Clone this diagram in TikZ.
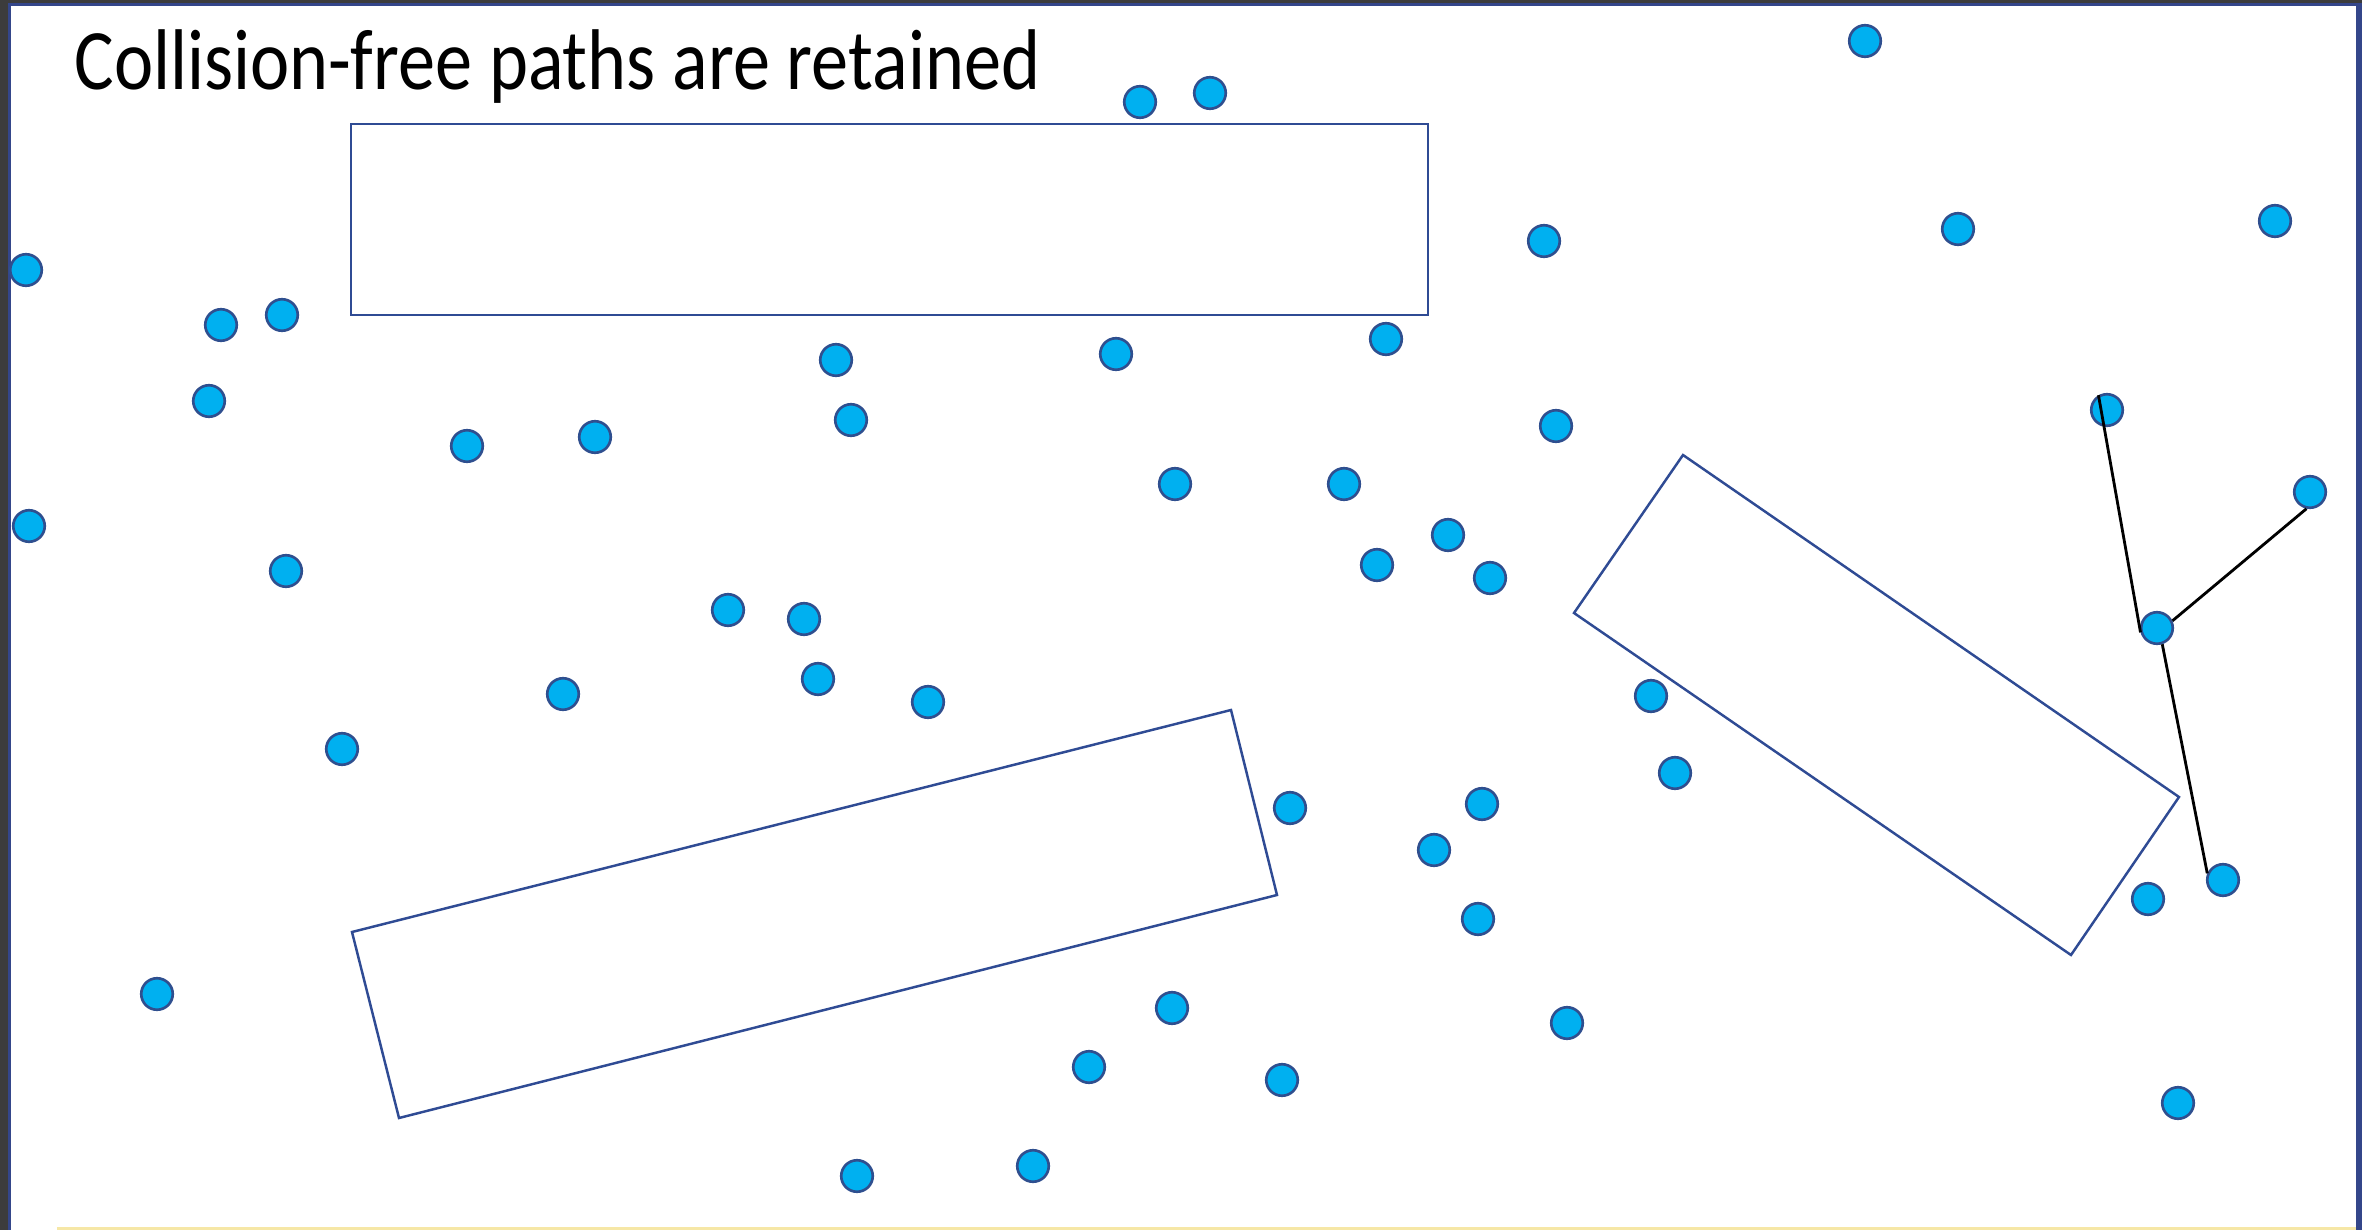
\documentclass[tikz,border=0pt]{standalone}
\usepackage{graphicx}
\usepackage{fontspec}
\setmainfont{Carlito}
\definecolor{dotfill}{HTML}{00B0F0}
\definecolor{dotline}{HTML}{2F4F8F}
\definecolor{rectline}{HTML}{2F4B94}
\definecolor{framegray}{HTML}{3C3C3C}
\definecolor{frameblue}{HTML}{34468A}
\definecolor{frameyellow}{HTML}{F6E7A6}
\tikzset{
  pt/.style={circle, draw=dotline, fill=dotfill, line width=0.75pt, inner sep=0pt, minimum size=0.315cm},
  obstacle/.style={draw=rectline, line width=0.7pt, line join=miter},
  edge/.style={draw=black, line width=0.8pt},
}
\begin{document}
\begin{tikzpicture}[x=0.01cm, y=-0.01cm]
\useasboundingbox (0,0) rectangle (2362,1230);
% background and frame
\fill[white] (0,0) rectangle (2362,1230);
\fill[framegray] (0,0) rectangle (8,1230);
\fill[framegray] (0,0) rectangle (2362,3);
\fill[frameblue] (8,3) rectangle (11,1230);
\fill[frameblue] (8,3) rectangle (2362,6);
\fill[frameblue] (2356,3) rectangle (2362,1230);
\fill[frameyellow] (57,1227) rectangle (2356,1230);
% title
\node[anchor=base west, inner sep=0pt, font=\fontsize{24.5pt}{29pt}\selectfont] (title) at (74,90) {\scalebox{0.862}[1]{Collision-free paths are retained}};
% obstacles
\draw[obstacle] (351,124) rectangle (1428,315);
\draw[obstacle] (352,932) -- (1231,710) -- (1277,895) -- (399,1118) -- cycle;
\draw[obstacle] (1683,455) -- (2179,797) -- (2071,955) -- (1574,613) -- cycle;
% sample points
\node[pt] (n1) at (1865,41) {};
\node[pt] (n2) at (1140,102) {};
\node[pt] (n3) at (1210,93) {};
\node[pt] (n4) at (26,270) {};
\node[pt] (n5) at (221,325) {};
\node[pt] (n6) at (282,315) {};
\node[pt] (n7) at (1544,241) {};
\node[pt] (n8) at (1958,229) {};
\node[pt] (n9) at (2275,221) {};
\node[pt] (n10) at (836,360) {};
\node[pt] (n11) at (1116,354) {};
\node[pt] (n12) at (1386,339) {};
\node[pt] (n13) at (209,401) {};
\node[pt] (n14) at (851,420) {};
\node[pt] (n15) at (1556,426) {};
\node[pt] (n16) at (2107,410) {};
\node[pt] (n17) at (467,446) {};
\node[pt] (n18) at (595,437) {};
\node[pt] (n19) at (1175,484) {};
\node[pt] (n20) at (1344,484) {};
\node[pt] (n21) at (2310,492) {};
\node[pt] (n22) at (29,526) {};
\node[pt] (n23) at (1448,535) {};
\node[pt] (n24) at (286,571) {};
\node[pt] (n25) at (1377,565) {};
\node[pt] (n26) at (1490,578) {};
\node[pt] (n27) at (728,610) {};
\node[pt] (n28) at (804,619) {};
\node[pt] (n29) at (2157,628) {};
\node[pt] (n30) at (818,679) {};
\node[pt] (n31) at (563,694) {};
\node[pt] (n32) at (928,702) {};
\node[pt] (n33) at (1651,696) {};
\node[pt] (n34) at (342,749) {};
\node[pt] (n35) at (1675,773) {};
\node[pt] (n36) at (1290,808) {};
\node[pt] (n37) at (1482,804) {};
\node[pt] (n38) at (1434,850) {};
\node[pt] (n39) at (2223,880) {};
\node[pt] (n40) at (2148,899) {};
\node[pt] (n41) at (1478,919) {};
\node[pt] (n42) at (157,994) {};
\node[pt] (n43) at (1172,1008) {};
\node[pt] (n44) at (1567,1023) {};
\node[pt] (n45) at (1089,1067) {};
\node[pt] (n46) at (1282,1080) {};
\node[pt] (n47) at (2178,1103) {};
\node[pt] (n48) at (857,1176) {};
\node[pt] (n49) at (1033,1166) {};
% retained collision-free paths
\draw[edge] (n16.120) -- (n29.195);
\draw[edge] (n29.25) -- (n21.258);
\draw[edge] (n29.288) -- (n39.157);
\end{tikzpicture}
\end{document}
